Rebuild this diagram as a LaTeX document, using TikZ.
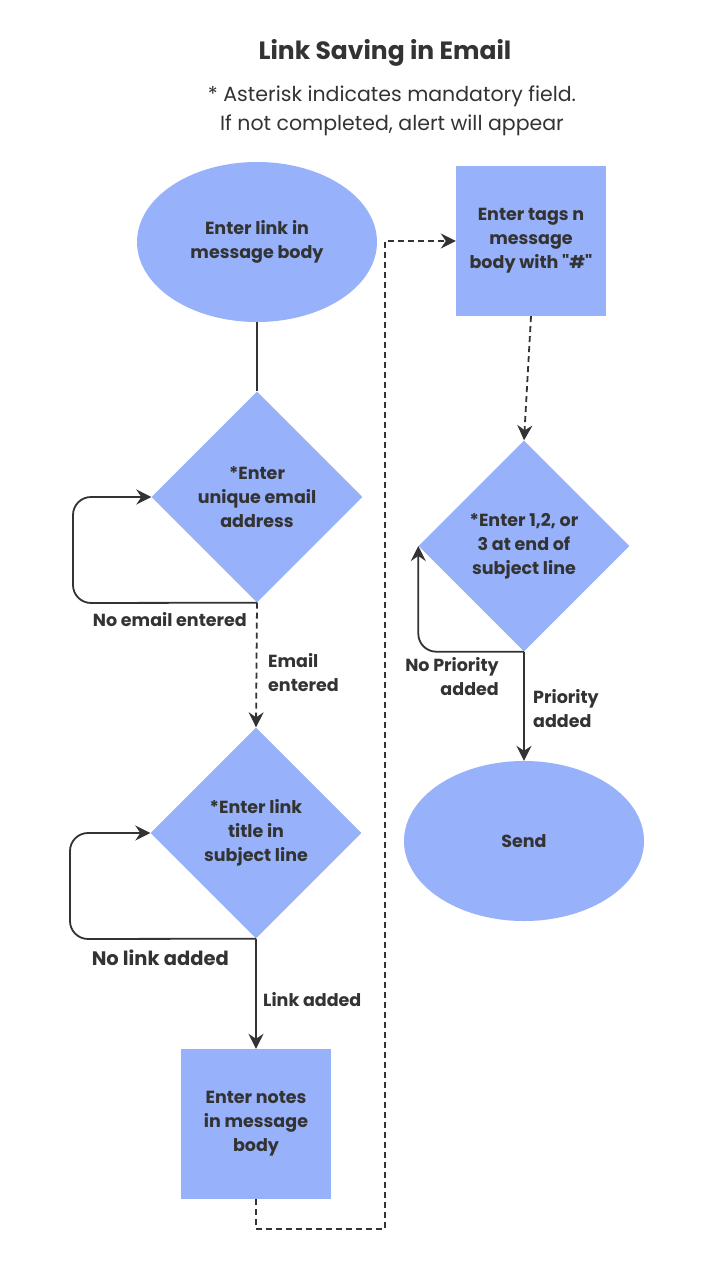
\documentclass[tikz,border=0pt]{standalone}
\usepackage{fontspec}
\setmainfont{Poppins}[Ligatures=TeXOff]
\usetikzlibrary{shapes.geometric,arrows.meta,calc}
\definecolor{boxblue}{RGB}{151,177,250}
\definecolor{ink}{RGB}{51,51,51}
\begin{document}
\begin{tikzpicture}[x=1pt,y=-1pt,
  every node/.style={text=ink,font=\bfseries\fontsize{17.5}{24}\selectfont},
  proc/.style={rectangle,fill=boxblue,minimum width=150pt,minimum height=150pt,inner sep=0pt,align=center},
  term/.style={ellipse,fill=boxblue,minimum width=240pt,minimum height=160pt,inner sep=0pt,align=center},
  decide/.style={diamond,fill=boxblue,minimum width=211pt,minimum height=211pt,inner sep=0pt,align=center},
  conn/.style={draw=ink,line width=1.8pt},
  arr/.style={conn,-{Stealth[length=15pt,width=15pt,inset=5pt]}},
  dashline/.style={dash pattern=on 6pt off 4pt},
  lbl/.style={inner sep=0pt,align=center}]
\useasboundingbox (0,0) rectangle (722,1281);

% title
\node[font=\bfseries\fontsize{25}{30}\selectfont] (title) at (385,53) {Link Saving in Email};
\node[font=\fontsize{20.5}{29}\selectfont,align=center] (sub) at (392,111) {* Asterisk indicates mandatory field.\\If not completed, alert will appear};

% nodes
\node[term] (e1) at (257,242) {Enter link in\\message body};
\node[decide] (d1) at (257,497) {*Enter\\unique email\\address};
\node[decide] (d2) at (256,833) {*Enter link\\title in\\subject line};
\node[proc] (r3) at (256,1124) {Enter notes\\in message\\body};
\node[proc] (r1) at (531,241) {Enter tags n\\message\\body with "\#"};
\node[decide] (d3) at (524,546) {*Enter 1,2, or\\3 at end of\\subject line};
\node[term] (e2) at (524,841) {Send};

% coordinates
\coordinate (l1) at (73,603);
\coordinate (l2) at (70,939);
\coordinate (c1) at (385,1229);

% connectors
\draw[conn] (e1.south) -- (d1.north);
\draw[arr,rounded corners=18pt] (d1.south) -- (l1) |- (d1.west);
\draw[arr,dashline] (d1.south) -- (d2.north);
\draw[arr,rounded corners=18pt] (d2.south) -- (l2) |- (d2.west);
\draw[arr] (d2.south) -- (r3.north);
\draw[arr,dashline] (r3.south) |- (c1) |- (r1.west);
\draw[arr,dashline] (r1.south) -- (d3.north);
\draw[arr,rounded corners=18pt] (d3.south) -| (d3.west);
\draw[arr] (d3.south) -- (e2.north);

% labels
\node[lbl,anchor=east] (t1) at (247,620) {No email entered};
\node[lbl,anchor=west,align=left] (t2) at (268,673) {Email\\entered};
\node[lbl,anchor=east,font=\bfseries\fontsize{19.5}{24}\selectfont] (t3) at (229,958) {No link added};
\node[lbl,anchor=west] (t4) at (263,1000) {Link added};
\node[lbl,anchor=east,align=right] (t5) at (499,677) {No Priority\\added};
\node[lbl,anchor=west,align=left] (t6) at (533,709) {Priority\\added};
\end{tikzpicture}
\end{document}
